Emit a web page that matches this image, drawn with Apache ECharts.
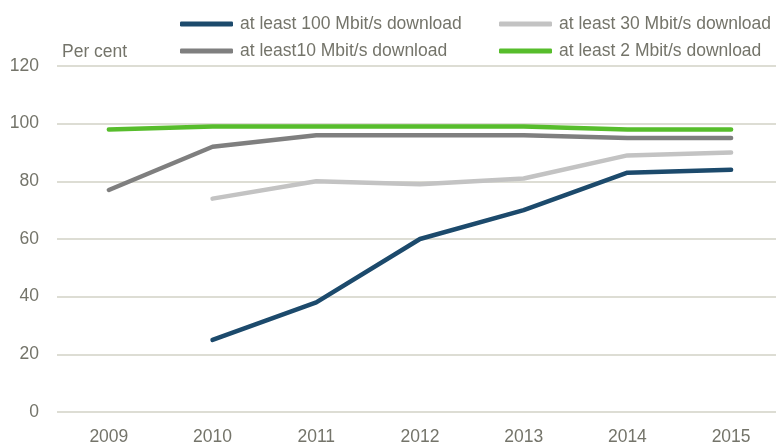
<!DOCTYPE html>
<html>
<head>
<meta charset="utf-8">
<script src="https://cdn.jsdelivr.net/npm/echarts@6/dist/echarts.min.js"></script>
<style>
html,body{margin:0;padding:0;background:#fff;}
#chart{width:776px;height:446px;}
</style>
</head>
<body>
<div id="chart"></div>
<script>
// Broadband coverage by download speed, per cent of households
const years = [2009, 2010, 2011, 2012, 2013, 2014, 2015];
const yTicks = [0, 20, 40, 60, 80, 100, 120];
const names = [
  'at least 100 Mbit/s download',
  'at least 30 Mbit/s download',
  'at least10 Mbit/s download',
  'at least 2 Mbit/s download'
];
const at100 = [null, 25, 38, 60, 70, 83, 84];
const at30 = [null, 74, 80, 79, 81, 89, 90];
const at10 = [77, 92, 96, 96, 96, 95, 95];
const at2 = [98, 99, 99, 99, 99, 98, 98];

const colors = ['#1c4a6c', '#c3c3c3', '#7f7f7f', '#57bd2c'];
const FONT = '"Liberation Sans", Arial, sans-serif';
const TXT = '#74746a';
const FS = 17.5;

function pairs(vals) {
  const out = [];
  vals.forEach((v, i) => { if (v !== null) out.push([years[i], v]); });
  return out;
}

const seriesValues = [at100, at30, at10, at2];
const legendPos = [
  { left: 180, top: 15 },
  { left: 499, top: 15 },
  { left: 180, top: 42 },
  { left: 499, top: 42 }
];

const chart = echarts.init(document.getElementById('chart'), null, { renderer: 'canvas' });
chart.setOption({
  animation: false,
  backgroundColor: '#ffffff',
  textStyle: { fontFamily: FONT },
  grid: { left: 57, right: 0, top: 66, bottom: 34, containLabel: false },
  legend: names.map((n, i) => ({
    data: [n],
    left: legendPos[i].left,
    top: legendPos[i].top,
    padding: 0,
    icon: 'roundRect',
    itemWidth: 53,
    itemHeight: 5,
    itemGap: 0,
    textStyle: { fontFamily: FONT, fontSize: FS, color: TXT, padding: [0, 0, 0, 2] },
    selectedMode: false
  })),
  graphic: [{
    type: 'text',
    left: 62,
    top: 43,
    style: { text: 'Per cent', fontFamily: FONT, fontSize: FS, fill: TXT }
  }],
  // year axis: half a year of padding on the left, the right side runs to the edge
  xAxis: {
    type: 'value',
    min: 2008.5,
    max: 2015.433,
    axisLine: { show: false },
    axisTick: { show: false },
    splitLine: { show: false },
    axisLabel: {
      customValues: years,
      formatter: v => String(Math.round(v)),
      fontFamily: FONT,
      fontSize: FS,
      color: TXT,
      margin: 16
    }
  },
  yAxis: {
    type: 'value',
    min: 0,
    max: 120,
    interval: 20,
    axisLine: { show: false },
    axisTick: { show: false },
    splitLine: { lineStyle: { color: '#d2d2c6', width: 1.5 } },
    axisLabel: {
      customValues: yTicks,
      fontFamily: FONT,
      fontSize: FS,
      color: TXT,
      margin: 18
    }
  },
  series: seriesValues.map((vals, i) => ({
    name: names[i],
    type: 'line',
    data: pairs(vals),
    symbol: 'none',
    color: colors[i],
    lineStyle: { color: colors[i], width: 4.5, cap: 'round', join: 'round' },
    z: 10 - i
  }))
});
</script>
</body>
</html>
